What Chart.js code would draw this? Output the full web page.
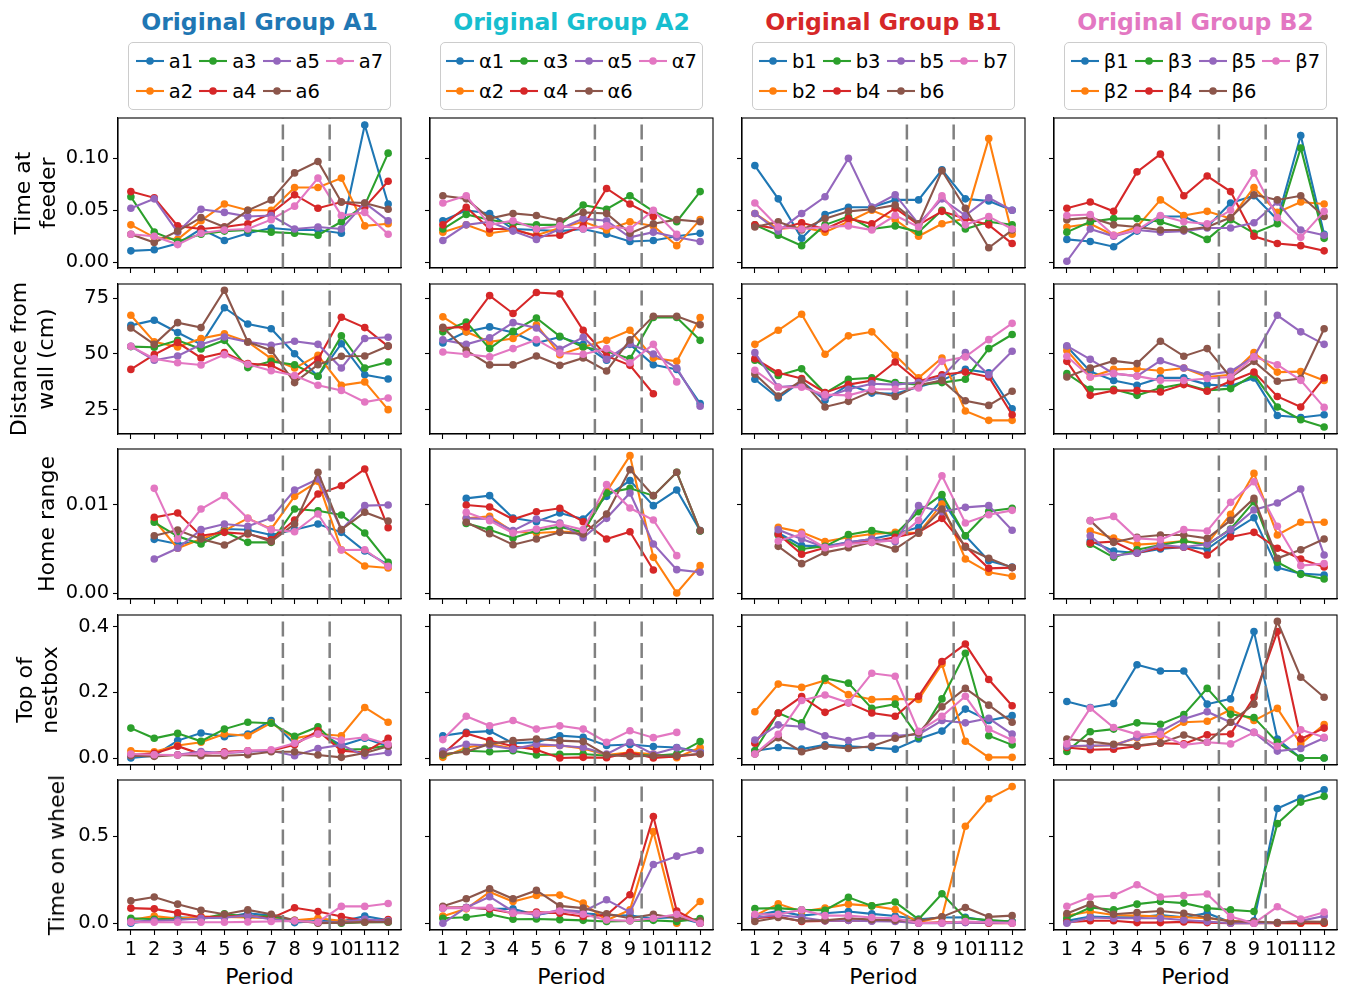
<!DOCTYPE html>
<html><head><meta charset="utf-8">
<script src="https://cdn.jsdelivr.net/npm/chart.js@4.4.0/dist/chart.umd.min.js"></script>
<style>
body{margin:0;background:#fff;width:1351px;height:990px;position:relative;overflow:hidden;font-family:"DejaVu Sans",sans-serif;color:#000;}
canvas{position:absolute;}
.title{position:absolute;top:8px;font-weight:bold;font-size:23.5px;text-align:center;white-space:nowrap;}
.ylab{position:absolute;font-size:22px;white-space:nowrap;text-align:center;transform:translate(-50%,-50%) rotate(-90deg);}
.xlab{position:absolute;font-size:22px;text-align:center;top:964px;}
.legend{position:absolute;top:42px;height:68px;box-sizing:border-box;border:1px solid #cccccc;border-radius:5px;background:#fff;display:grid;grid-template-rows:30px 30px;grid-auto-flow:column;column-gap:6px;align-content:center;justify-content:center;}
.item{display:flex;align-items:center;font-size:19.5px;height:30px;}
.item svg{margin-right:5px;}
</style></head><body>
<script>
const periods = [1,2,3,4,5,6,7,8,9,10,11,12];
const groupTitles = ['Original Group A1','Original Group A2','Original Group B1','Original Group B2'];
const seriesNames = [
  ['a1','a2','a3','a4','a5','a6','a7'],
  ['α1','α2','α3','α4','α5','α6','α7'],
  ['b1','b2','b3','b4','b5','b6','b7'],
  ['β1','β2','β3','β4','β5','β6','β7']
];
const rowLabels = [['Time at','feeder'],['Distance from','wall (cm)'],['Home range'],['Top of','nestbox'],['Time on wheel']];
const yTicks = [[0,0.05,0.1],[25,50,75],[0,0.01],[0,0.2,0.4],[0,0.5]];
const xTickLabels = ['1','2','3','4','5','6','7','8','9','10','11','12'];
const phaseBreaks = [7.5, 9.5];
const xAxisLabel = 'Period';

const feederA1 = [
 [0.011,0.012,0.018,0.032,0.021,0.028,0.033,0.031,0.031,0.028,0.132,0.056],
 [0.036,0.024,0.022,0.040,0.056,0.050,0.050,0.072,0.072,0.081,0.035,0.037],
 [0.063,0.029,0.020,0.027,0.030,0.031,0.029,0.028,0.026,0.039,0.055,0.105],
 [0.068,0.062,0.035,0.032,0.034,0.037,0.047,0.065,0.052,0.058,0.053,0.078],
 [0.052,0.061,0.029,0.051,0.048,0.044,0.045,0.032,0.034,0.032,0.057,0.040],
 [0.027,0.019,0.030,0.043,0.034,0.050,0.060,0.086,0.097,0.058,0.057,0.051],
 [0.027,0.025,0.017,0.028,0.031,0.032,0.041,0.054,0.081,0.045,0.048,0.027]
];
const feederA2 = [
 [0.040,0.050,0.047,0.032,0.031,0.030,0.032,0.027,0.020,0.021,0.025,0.028],
 [0.029,0.036,0.028,0.031,0.026,0.033,0.039,0.031,0.039,0.035,0.016,0.041],
 [0.032,0.046,0.041,0.037,0.036,0.036,0.055,0.051,0.064,0.049,0.039,0.068],
 [0.036,0.053,0.032,0.032,0.025,0.026,0.035,0.071,0.056,0.044,null,null],
 [0.021,0.036,0.039,0.030,0.022,0.032,0.042,0.040,0.024,0.029,0.024,0.020],
 [0.064,0.061,0.042,0.047,0.045,0.040,0.048,0.047,0.028,0.037,0.041,0.039],
 [0.057,0.064,0.036,0.040,0.032,0.035,0.032,0.035,0.032,0.050,0.027,null]
];
const feederB1 = [
 [0.093,0.061,0.023,0.046,0.053,0.053,0.060,0.060,0.089,0.061,0.059,0.050],
 [0.047,0.032,0.034,0.029,0.039,0.050,0.041,0.025,0.037,0.042,0.119,0.027],
 [0.036,0.026,0.016,0.036,0.044,0.032,0.035,0.029,0.050,0.032,0.039,0.036],
 [0.036,0.032,0.038,0.032,0.042,0.037,0.052,0.036,0.049,0.042,0.036,0.018],
 [0.047,0.030,0.047,0.063,0.100,0.053,0.065,0.037,0.061,0.045,0.062,0.050],
 [0.034,0.039,0.031,0.042,0.049,0.051,0.055,0.037,0.088,0.052,0.014,0.031],
 [0.057,0.034,0.032,0.034,0.035,0.031,0.045,0.034,0.064,0.036,0.044,0.032]
];
const feederB2 = [
 [0.022,0.020,0.015,0.030,0.044,0.044,0.034,0.057,0.064,0.041,0.122,0.027],
 [0.034,0.037,0.026,0.034,0.060,0.045,0.049,0.042,0.072,0.048,0.058,0.056],
 [0.029,0.039,0.042,0.042,0.039,0.032,0.022,0.041,0.028,0.037,0.110,0.023],
 [0.052,0.058,0.049,0.087,0.104,0.064,0.083,0.068,0.025,0.018,0.016,0.011],
 [0.001,0.032,0.025,0.031,0.029,0.030,0.033,0.033,0.038,0.058,0.031,0.026],
 [0.041,0.043,0.036,0.034,0.031,0.031,0.034,0.043,0.065,0.060,0.064,0.044],
 [0.045,0.046,0.026,0.031,0.045,0.039,0.037,0.050,0.086,0.043,0.024,0.049]
];

const wallA1 = [
 [62.8,65.1,59.6,54.3,70.7,63.4,61.3,50.1,40.0,54.6,40.7,38.8],
 [67.3,55.4,53.1,56.9,59.0,55.4,47.9,43.7,49.4,36.0,37.5,25.1],
 [53.3,53.0,56.1,52.2,56.1,43.9,46.7,45.2,40.0,58.1,43.7,46.4],
 [43.1,49.7,55.1,48.2,50.6,45.7,44.9,39.7,47.6,66.4,61.8,53.4],
 [53.4,47.2,49.1,54.2,57.6,55.4,53.9,55.7,54.3,43.7,56.9,57.5],
 [61.6,54.3,64.0,61.8,78.5,55.4,51.6,37.2,45.2,49.0,49.1,53.6],
 [53.4,47.9,46.1,45.1,49.7,45.4,42.5,40.4,36.0,33.7,28.5,30.3]
];
const wallA2 = [
 [54.9,59.9,62.1,59.6,54.9,57.6,54.3,47.2,54.3,45.2,43.1,27.8],
 [66.6,59.9,55.4,56.9,63.1,49.7,53.1,56.1,60.6,48.2,46.7,66.3],
 [59.9,64.3,52.4,60.1,66.1,57.9,53.1,51.2,47.9,66.3,66.3,56.1],
 [61.6,62.1,76.1,68.1,77.5,76.9,60.6,49.1,44.9,32.2,null,null],
 [56.3,54.3,57.2,64.0,61.6,52.1,57.5,47.6,54.6,50.0,43.7,26.6],
 [61.9,51.6,45.1,45.1,49.1,44.9,48.2,42.4,56.3,66.9,66.9,63.1],
 [50.9,49.9,48.7,52.4,56.4,50.4,49.9,52.4,46.1,54.3,37.5,null]
];
const wallB1 = [
 [38.7,30.3,37.8,29.3,36.3,32.5,32.2,35.2,38.2,43.1,41.6,25.5],
 [54.3,60.6,67.8,49.9,58.1,59.9,49.4,39.3,48.2,24.5,20.3,20.3],
 [47.2,40.4,43.4,32.5,38.7,39.3,37.2,36.3,37.2,38.7,52.4,58.7],
 [47.9,41.6,39.0,32.7,36.3,38.1,46.4,37.8,40.7,41.9,39.7,22.8],
 [50.6,35.2,36.0,30.6,34.2,36.7,36.3,37.2,39.7,50.6,40.7,51.2],
 [41.0,31.2,38.2,26.3,28.8,33.3,31.0,36.0,38.2,29.1,27.0,33.3],
 [42.7,35.1,35.1,31.8,31.5,34.2,34.2,34.8,46.7,48.7,56.4,63.7]
];
const wallB2 = [
 [53.3,42.2,38.1,36.0,39.3,39.3,36.3,35.7,39.3,22.5,21.6,22.8],
 [51.6,39.7,43.1,43.4,42.5,43.7,39.7,40.7,50.6,41.9,42.1,38.1],
 [41.2,34.2,34.2,31.5,34.8,36.7,33.7,34.5,40.7,26.3,20.6,17.3],
 [46.7,31.5,33.6,33.6,33.0,36.3,33.3,37.8,41.9,31.0,26.3,39.3],
 [53.6,47.6,41.2,40.1,47.0,43.7,40.7,42.2,48.7,67.3,59.9,54.3],
 [39.7,43.7,46.9,45.7,55.7,49.0,52.4,39.6,46.7,37.8,39.0,61.3],
 [49.0,39.7,41.3,40.1,38.2,38.1,39.0,39.7,48.7,45.2,38.2,26.1]
];

const homeA1 = [
 [null,0.00609,0.00556,0.0059,0.00726,0.00718,0.00658,0.00718,0.00782,0.00688,0.00477,0.0032],
 [null,0.00827,0.00508,0.00613,0.00707,0.00846,0.00726,0.01094,0.01263,0.00492,0.00308,0.00286],
 [null,0.00801,0.00643,0.00556,0.00695,0.00575,0.00575,0.00951,0.00932,0.00883,0.0068,0.0035],
 [null,0.00857,0.00906,0.0065,0.00688,0.00669,0.00605,0.00827,0.0112,0.01214,0.01402,0.00741],
 [null,0.00387,0.00508,0.00718,0.00782,0.00756,0.0085,0.01165,0.0129,0.00718,0.00989,0.00996],
 [null,0.0065,0.00714,0.00613,0.00545,0.00677,0.00583,0.00782,0.01365,0.00718,0.00914,0.00816],
 [null,0.01184,0.00613,0.00951,0.01102,0.00846,0.00718,0.00695,0.00895,0.00489,0.00492,0.00305]
];
const homeA2 = [
 [null,0.01071,0.01102,0.0085,0.00808,0.00906,0.00838,0.01094,0.01271,0.00989,0.01165,0.00707],
 [null,0.00846,0.00868,0.00695,0.0068,0.00695,0.00695,0.01147,0.01553,0.00406,0.00004,0.00312],
 [null,0.00789,0.00718,0.00624,0.00707,0.00752,0.00688,0.01132,0.01184,0.01102,0.01365,0.00703],
 [null,0.00996,0.00974,0.00835,0.00921,0.00959,0.00808,0.00613,0.00695,0.00263,null,null],
 [null,0.00846,0.00838,0.00707,0.00838,0.00793,0.00628,0.00846,0.01132,0.00556,0.00267,0.00237],
 [null,0.00801,0.00673,0.00549,0.00613,0.00688,0.00669,0.00895,0.01395,0.01102,0.01365,0.00707],
 [null,0.00914,0.0082,0.0068,0.00726,0.00782,0.00718,0.01226,0.00962,0.00827,0.00425,null]
];
const homeB1 = [
 [null,0.0068,0.00538,0.0053,0.00575,0.00613,0.00669,0.00744,0.01056,0.0065,0.00368,0.00297],
 [null,0.00744,0.00688,0.00583,0.00632,0.00669,0.00688,0.0068,0.01008,0.00387,0.00237,0.00192],
 [null,0.00658,0.005,0.0053,0.00662,0.00707,0.00665,0.00921,0.01113,0.0065,0.00925,0.00959],
 [null,0.00669,0.0044,0.00515,0.00568,0.00583,0.00632,0.00688,0.00846,0.0053,0.00282,0.0029],
 [null,0.00718,0.00613,0.00519,0.00575,0.00613,0.00583,0.00989,0.00921,0.0097,0.00989,0.00711],
 [null,0.0053,0.00335,0.00462,0.00515,0.00575,0.005,0.00677,0.00951,0.00519,0.00395,0.0029],
 [null,0.0059,0.00669,0.00515,0.00556,0.00575,0.00598,0.00823,0.01327,0.00793,0.00887,0.00936]
];
const homeB2 = [
 [null,0.0059,0.00477,0.00455,0.005,0.00523,0.005,0.00688,0.00853,0.0029,0.00222,0.00207],
 [null,0.00703,0.00624,0.00549,0.00564,0.0059,0.0056,0.00891,0.01353,0.00658,0.00801,0.00801],
 [null,0.00553,0.00406,0.00492,0.00545,0.0059,0.00545,0.00726,0.01034,0.0035,0.00214,0.00162],
 [null,0.00568,0.00583,0.00455,0.00515,0.00519,0.00432,0.00635,0.00688,0.00508,0.00387,0.00297],
 [null,0.0065,0.00425,0.00455,0.00545,0.00523,0.00553,0.00718,0.0094,0.01019,0.01177,0.00432],
 [null,0.0082,0.00575,0.00632,0.00658,0.00658,0.0062,0.00823,0.01071,0.00395,0.00492,0.00613],
 [null,0.0082,0.00868,0.0062,0.00605,0.00718,0.00703,0.01026,0.01259,0.00756,0.00312,0.00335]
];

const nestA1 = [
 [0.0,0.007,0.053,0.076,0.065,0.073,0.114,0.043,0.08,0.038,0.06,0.036],
 [0.022,0.019,0.038,0.048,0.073,0.068,0.107,0.06,0.073,0.068,0.154,0.109],
 [0.091,0.06,0.075,0.051,0.088,0.109,0.106,0.066,0.095,0.025,0.027,0.038],
 [0.009,0.014,0.036,0.012,0.019,0.022,0.022,0.04,0.083,0.022,0.017,0.06],
 [0.007,0.009,0.01,0.02,0.015,0.019,0.022,0.007,0.029,0.04,0.007,0.017],
 [0.007,0.005,0.009,0.007,0.007,0.01,0.019,0.019,0.009,0.002,0.015,0.036],
 [0.012,0.01,0.009,0.015,0.015,0.022,0.025,0.045,0.073,0.055,0.063,0.042]
];
const nestA2 = [
 [0.068,0.078,0.082,0.045,0.048,0.068,0.063,0.038,0.041,0.035,0.032,0.02],
 [0.002,0.032,0.043,0.029,0.036,0.038,0.029,0.009,0.017,0.011,0.001,0.032],
 [0.009,0.022,0.019,0.022,0.009,0.011,0.012,0.007,0.012,0.007,0.012,0.05],
 [0.012,0.075,0.053,0.036,0.025,0.0,0.002,0.001,0.017,0.0,0.005,0.012],
 [0.021,0.042,0.038,0.027,0.042,0.038,0.032,0.012,0.048,0.012,0.031,0.017],
 [0.012,0.019,0.043,0.053,0.058,0.053,0.05,0.009,0.005,0.007,0.007,0.012],
 [0.056,0.127,0.098,0.114,0.088,0.098,0.088,0.048,0.083,0.062,0.078,null]
];
const nestB1 = [
 [0.022,0.032,0.027,0.04,0.036,0.032,0.027,0.058,0.082,0.149,0.114,0.129],
 [0.141,0.225,0.215,0.236,0.193,0.178,0.18,0.178,0.286,0.051,0.002,0.002],
 [0.022,0.137,0.107,0.243,0.228,0.151,0.164,0.063,0.18,0.319,0.068,0.04],
 [0.045,0.137,0.187,0.139,0.168,0.137,0.127,0.188,0.294,0.347,0.239,0.159],
 [0.055,0.101,0.095,0.068,0.053,0.068,0.068,0.072,0.114,0.107,0.121,0.073],
 [0.012,0.062,0.019,0.036,0.029,0.036,0.06,0.076,0.156,0.212,0.161,0.109],
 [0.012,0.072,0.175,0.192,0.168,0.258,0.249,0.081,0.127,0.188,0.088,0.055]
];
const nestB2 = [
 [0.172,0.154,0.166,0.284,0.265,0.265,0.164,0.18,0.385,0.058,0.0,0.0],
 [0.036,0.036,0.04,0.061,0.066,0.109,0.112,0.147,0.114,0.151,0.043,0.102],
 [0.02,0.08,0.088,0.107,0.103,0.132,0.212,0.133,0.123,0.048,0.0,0.0],
 [0.032,0.025,0.027,0.036,0.045,0.043,0.071,0.073,0.185,0.385,0.058,0.091],
 [0.036,0.038,0.038,0.063,0.081,0.119,0.141,0.109,0.078,0.021,0.029,0.061],
 [0.058,0.05,0.042,0.038,0.046,0.07,0.048,0.109,0.164,0.416,0.246,0.185],
 [0.043,0.152,0.093,0.072,0.072,0.04,0.048,0.043,0.078,0.036,0.086,0.063]
];

const wheelA1 = [
 [0.0,0.019,0.035,0.029,0.033,0.058,0.044,0.004,0.015,0.01,0.041,0.017],
 [0.019,0.041,0.027,0.039,0.037,0.033,0.029,0.017,0.029,0.014,0.015,0.01],
 [0.029,0.023,0.025,0.025,0.054,0.037,0.041,0.015,0.006,0.0,0.006,0.006],
 [0.087,0.083,0.06,0.035,0.039,0.044,0.029,0.089,0.068,0.039,0.014,0.021],
 [0.01,0.014,0.019,0.029,0.033,0.044,0.023,0.015,0.006,0.006,0.023,0.015],
 [0.129,0.151,0.11,0.075,0.052,0.077,0.052,0.017,0.0,0.004,0.006,0.008],
 [0.006,0.006,0.006,0.006,0.006,0.008,0.01,0.014,0.006,0.097,0.097,0.114]
];
const wheelA2 = [
 [0.087,0.091,0.083,0.083,0.048,0.071,0.058,0.048,0.044,0.029,0.035,0.0],
 [0.041,0.083,0.18,0.125,0.16,0.162,0.116,0.017,0.077,0.527,0.0,0.125],
 [0.029,0.035,0.052,0.023,0.025,0.021,0.017,0.01,0.014,0.017,0.01,0.027],
 [0.091,0.091,0.083,0.058,0.064,0.058,0.039,0.048,0.164,0.614,0.071,0.0],
 [0.0,0.091,0.153,0.068,0.048,0.077,0.068,0.135,0.064,0.338,0.386,0.419],
 [0.098,0.141,0.199,0.141,0.189,0.1,0.087,0.054,0.029,0.052,0.029,0.014],
 [0.087,0.087,0.091,0.058,0.058,0.071,0.052,0.019,0.014,0.029,0.052,0.0]
];
const wheelB1 = [
 [0.044,0.071,0.044,0.058,0.068,0.054,0.042,0.023,0.033,0.035,0.014,0.01],
 [0.044,0.112,0.068,0.087,0.11,0.1,0.079,0.006,0.037,0.558,0.716,0.786],
 [0.085,0.087,0.077,0.075,0.149,0.1,0.122,0.023,0.17,0.029,0.019,0.01],
 [0.029,0.039,0.01,0.014,0.017,0.014,0.015,0.002,0.006,0.006,0.0,0.0],
 [0.033,0.048,0.033,0.014,0.017,0.012,0.01,0.0,0.0,0.004,0.004,0.004],
 [0.01,0.033,0.014,0.017,0.029,0.021,0.017,0.015,0.037,0.091,0.037,0.044],
 [0.052,0.052,0.077,0.044,0.044,0.033,0.029,0.002,0.002,0.01,0.006,0.0]
];
const wheelB2 = [
 [0.014,0.039,0.035,0.035,0.048,0.035,0.058,0.006,0.014,0.66,0.72,0.768],
 [0.044,0.068,0.048,0.044,0.039,0.035,0.029,0.014,0.006,0.002,0.0,0.0],
 [0.029,0.091,0.077,0.11,0.125,0.116,0.087,0.077,0.068,0.573,0.697,0.73],
 [0.006,0.015,0.015,0.004,0.004,0.008,0.004,0.0,0.0,0.0,0.0,0.0],
 [0.0,0.033,0.029,0.029,0.029,0.019,0.01,0.0,0.0,0.004,0.014,0.042],
 [0.056,0.11,0.052,0.062,0.071,0.058,0.033,0.01,0.01,0.004,0.01,0.008],
 [0.098,0.151,0.16,0.222,0.151,0.16,0.168,0.039,0.0,0.095,0.025,0.064]
];

const panels = [
  [feederA1, feederA2, feederB1, feederB2],
  [wallA1, wallA2, wallB1, wallB2],
  [homeA1, homeA2, homeB1, homeB2],
  [nestA1, nestA2, nestB1, nestB2],
  [wheelA1, wheelA2, wheelB1, wheelB2]
];

/* ---------- styling / layout (not data) ---------- */
const COLORS = ['#1f77b4','#ff7f0e','#2ca02c','#d62728','#9467bd','#8c564b','#e377c2'];
const TITLE_COLORS = ['#1f77b4','#17becf','#d62728','#e377c2'];
const Y_RANGES = [[-0.0055,0.1388],[14.2,81.3],[-0.00064,0.01628],[-0.0213,0.4355],[-0.0386,0.824]];
const Y_FMT = [v=>v.toFixed(2), v=>String(Math.round(v)), v=>v.toFixed(2), v=>v.toFixed(1), v=>v.toFixed(1)];
const PLOT_LEFT = [118,430,742,1054];
const PLOT_TOP = [118,284,449,615,780];
const PW = 283, PH = 150;
const YLAB_POS = [[34.5,193,25],[31.5,359,27],[47,524,26],[36.5,690,25],[57,855,26]];
const FONT = {family:'"DejaVu Sans", sans-serif', size:19.4};

const overlay = {
  id:'overlay',
  afterDatasetsDraw(chart){
    const {ctx, chartArea:a, scales:{x}} = chart;
    ctx.save();
    ctx.strokeStyle = '#808080';
    ctx.lineWidth = 2.5;
    ctx.setLineDash([15,6.4]);
    phaseBreaks.forEach(v=>{
      const px = x.getPixelForValue(v);
      ctx.beginPath(); ctx.moveTo(px, a.bottom); ctx.lineTo(px, a.top); ctx.stroke();
    });
    ctx.restore();
  },
  afterDraw(chart){
    const {ctx, chartArea:a} = chart;
    ctx.save();
    ctx.strokeStyle = '#000'; ctx.lineWidth = 1.1; ctx.setLineDash([]);
    ctx.strokeRect(a.left, a.top, a.right-a.left, a.bottom-a.top);
    ctx.restore();
  }
};

function makePanel(r, c){
  const padL = 70, padT = 12, padR = 12, padB = (r===4 ? 48 : 14);
  const cv = document.createElement('canvas');
  cv.width = padL + PW + padR; cv.height = padT + PH + padB;
  cv.style.left = (PLOT_LEFT[c]-padL)+'px';
  cv.style.top = (PLOT_TOP[r]-padT)+'px';
  document.body.appendChild(cv);
  const series = panels[r][c];
  const datasets = series.map((vals,i)=>({
    label: seriesNames[c][i],
    data: periods.map((p,j)=>({x:p, y:vals[j]})),
    borderColor: COLORS[i], backgroundColor: COLORS[i],
    borderWidth: 2.1, pointRadius: 3.8, pointHoverRadius: 3.8, pointBorderWidth: 0,
    tension: 0, spanGaps: false, order: 7-i
  }));
  new Chart(cv, {
    type:'line',
    data:{datasets},
    options:{
      responsive:false, animation:false, devicePixelRatio:1, events:[],
      layout:{padding:{left:0, top:padT, right:padR, bottom:0}},
      plugins:{legend:{display:false}, tooltip:{enabled:false}},
      scales:{
        x:{
          type:'linear', min:0.45, max:12.55,
          afterBuildTicks: s=>{ s.ticks = periods.map(v=>({value:v})); },
          ticks:{ autoSkip:false, maxRotation:0, minRotation:0, padding:3, color:'#000', font:FONT,
                  callback:(v)=> r===4 ? xTickLabels[periods.indexOf(v)] : '' },
          grid:{ drawOnChartArea:false, drawTicks:true, tickLength:5, tickColor:'#000', tickWidth:1.1 },
          border:{ display:true, color:'#000', width:1.1 },
          afterFit: s=>{ s.height = padB; s.paddingLeft = 0; s.paddingRight = 0; }
        },
        y:{
          type:'linear', min:Y_RANGES[r][0], max:Y_RANGES[r][1],
          afterBuildTicks: s=>{ s.ticks = yTicks[r].map(v=>({value:v})); },
          ticks:{ padding:4, color:'#000', font:FONT, callback:(v)=> c===0 ? Y_FMT[r](v) : '' },
          grid:{ drawOnChartArea:false, drawTicks:true, tickLength:5, tickColor:'#000', tickWidth:1.1 },
          border:{ display:true, color:'#000', width:1.1 },
          afterFit: s=>{ s.width = padL; s.paddingTop = 0; s.paddingBottom = 0; }
        }
      }
    },
    plugins:[overlay]
  });
}

function handleSVG(color){
  return `<svg width="28" height="12" viewBox="0 0 28 12"><line x1="0" y1="6" x2="28" y2="6" stroke="${color}" stroke-width="2.1"/><circle cx="14" cy="6" r="3.8" fill="${color}"/></svg>`;
}

for(let c=0;c<4;c++){
  const t = document.createElement('div');
  t.className='title'; t.textContent = groupTitles[c];
  t.style.left = PLOT_LEFT[c]+'px'; t.style.width = PW+'px'; t.style.color = TITLE_COLORS[c];
  document.body.appendChild(t);

  const lg = document.createElement('div');
  lg.className='legend';
  lg.style.left = (PLOT_LEFT[c]+10)+'px'; lg.style.width = '263px';
  lg.innerHTML = seriesNames[c].map((n,i)=>`<div class="item">${handleSVG(COLORS[i])}<span>${n}</span></div>`).join('');
  document.body.appendChild(lg);

  const xl = document.createElement('div');
  xl.className='xlab'; xl.textContent = xAxisLabel;
  xl.style.left = PLOT_LEFT[c]+'px'; xl.style.width = PW+'px';
  document.body.appendChild(xl);

  for(let r=0;r<5;r++) makePanel(r,c);
}
for(let r=0;r<5;r++){
  const d = document.createElement('div');
  d.className='ylab';
  d.style.left = YLAB_POS[r][0]+'px'; d.style.top = YLAB_POS[r][1]+'px';
  d.style.lineHeight = YLAB_POS[r][2]+'px';
  d.innerHTML = rowLabels[r].join('<br>');
  document.body.appendChild(d);
}
</script>
</body></html>
